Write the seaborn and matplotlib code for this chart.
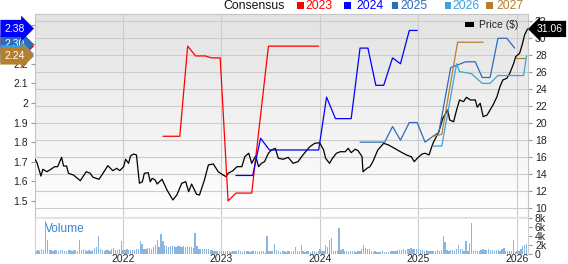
import numpy as np
import matplotlib
matplotlib.use("Agg")
import matplotlib.pyplot as plt
import matplotlib.transforms as mtrans
from matplotlib.colors import LinearSegmentedColormap
from matplotlib.patches import Rectangle
import seaborn as sns

# ---------------- data ----------------
years = [2022, 2023, 2024, 2025, 2026]
year_labels = ["2022", "2023", "2024", "2025", "2026"]

price_t = [2021.11, 2021.13, 2021.17, 2021.19, 2021.23, 2021.26, 2021.31, 2021.34, 2021.38, 2021.40,
           2021.43, 2021.45, 2021.50, 2021.57, 2021.63, 2021.67, 2021.70, 2021.76, 2021.80, 2021.85,
           2021.90, 2021.94, 2021.97, 2022.01, 2022.03, 2022.06, 2022.08, 2022.11, 2022.14, 2022.17,
           2022.20, 2022.22, 2022.26, 2022.28, 2022.30, 2022.33, 2022.35, 2022.40, 2022.45, 2022.46,
           2022.51, 2022.55, 2022.60, 2022.64, 2022.67, 2022.70, 2022.75, 2022.78, 2022.83, 2022.87,
           2022.92, 2022.97, 2023.02, 2023.05, 2023.07, 2023.12, 2023.16, 2023.21, 2023.24, 2023.28,
           2023.31, 2023.35, 2023.38, 2023.41, 2023.44, 2023.48, 2023.51, 2023.55, 2023.58, 2023.63,
           2023.68, 2023.73, 2023.78, 2023.83, 2023.90, 2023.95, 2024.00, 2024.04, 2024.06, 2024.10,
           2024.13, 2024.17, 2024.21, 2024.26, 2024.29, 2024.32, 2024.36, 2024.39, 2024.43, 2024.44,
           2024.48, 2024.51, 2024.54, 2024.59, 2024.65, 2024.70, 2024.73, 2024.76, 2024.82, 2024.88,
           2024.93, 2024.96, 2025.00, 2025.04, 2025.07, 2025.11, 2025.15, 2025.21, 2025.25, 2025.30,
           2025.32, 2025.36, 2025.39, 2025.42, 2025.46, 2025.49, 2025.53, 2025.58, 2025.60, 2025.63,
           2025.66, 2025.70, 2025.73, 2025.76, 2025.80, 2025.83, 2025.86, 2025.90, 2025.93, 2025.97,
           2025.99, 2026.03, 2026.06, 2026.08, 2026.11]
price_v = [15.73, 15.33, 13.76, 14.55, 14.27, 14.47, 14.86, 14.86, 15.96, 14.94,
           14.94, 14.08, 13.88, 13.21, 14.27, 14.08, 13.61, 13.38, 14.08, 14.98,
           14.39, 14.67, 14.39, 14.86, 15.73, 15.26, 16.12, 16.35, 16.24, 12.91,
           13.09, 14.08, 14.15, 13.09, 13.49, 13.29, 12.82, 13.38, 12.12, 11.92,
           10.94, 11.53, 12.91, 13.09, 11.92, 12.82, 11.61, 11.53, 13.29, 15.06,
           15.18, 14.27, 13.88, 13.68, 14.08, 14.39, 14.86, 14.86, 16.04, 16.44,
           15.26, 16.12, 14.86, 15.26, 15.45, 16.44, 16.82, 17.02, 15.85, 15.73,
           15.96, 15.26, 15.45, 16.24, 17.21, 17.61, 17.68, 16.82, 15.85, 15.26,
           15.85, 16.44, 16.62, 16.62, 17.02, 16.51, 16.91, 16.74, 16.04, 14.27,
           14.67, 14.86, 15.45, 16.82, 17.61, 17.41, 17.21, 17.02, 16.62, 16.24,
           16.04, 15.45, 15.96, 16.35, 16.44, 16.24, 17.61, 18.98, 20.55, 21.53,
           20.35, 20.15, 21.53, 22.71, 22.51, 23.02, 22.71, 22.71, 21.85, 22.32,
           20.74, 20.94, 21.53, 22.12, 23.09, 24.27, 25.06, 25.26, 25.85, 27.02,
           27.80, 28.20, 29.38, 30.35, 31.06]
price_last = 31.06

c23_t = [2022.41, 2022.58, 2022.66, 2022.74, 2022.84, 2022.90, 2022.99, 2023.07, 2023.15, 2023.31, 2023.48, 2023.99]
c23_v = [1.83, 1.83, 2.29, 2.24, 2.24, 2.23, 2.23, 1.50, 1.54, 1.54, 2.29, 2.29]

c24_t = [2023.15, 2023.32, 2023.40, 2023.49, 2023.99, 2024.07, 2024.16, 2024.32, 2024.41, 2024.49,
         2024.57, 2024.65, 2024.74, 2024.82, 2024.91, 2024.99]
c24_v = [1.63, 1.63, 1.82, 1.76, 1.76, 2.03, 1.92, 1.92, 2.28, 2.28,
         2.09, 2.09, 2.23, 2.20, 2.37, 2.37]

c25_t = [2024.41, 2024.66, 2024.74, 2024.82, 2024.91, 2024.99, 2025.07, 2025.15, 2025.21, 2025.33,
         2025.48, 2025.58, 2025.65, 2025.73, 2025.81, 2025.90, 2025.98]
c25_v = [1.80, 1.80, 1.88, 1.81, 1.90, 1.90, 1.80, 1.83, 1.85, 2.18,
         2.21, 2.21, 2.13, 2.13, 2.33, 2.33, 2.28]

c26_t = [2025.15, 2025.24, 2025.39, 2025.42, 2025.54, 2025.65, 2025.73, 2025.81, 2026.07, 2026.10]
c26_v = [1.78, 1.78, 2.20, 2.16, 2.15, 2.10, 2.10, 2.14, 2.14, 2.24]

c27_t = [2025.15, 2025.24, 2025.40, 2025.66, np.nan, 2025.99, 2026.08]
c27_v = [1.83, 1.84, 2.31, 2.31, np.nan, 2.23, 2.23]

series_names = ["2023", "2024", "2025", "2026", "2027"]
series_colors = ["#ff0000", "#0000ff", "#2a6ebb", "#3ba3dc", "#b5802e"]

# current consensus tags (drawn bottom -> top)
tag_names = ["2023", "2025", "2026", "2027", "2024"]
tag_values = [2.29, 2.30, 2.25, 2.24, 2.38]
tag_labels = ["2.29", "2.30", "2.25", "2.24", "2.38"]

eps_ticks = [1.5, 1.6, 1.7, 1.8, 1.9, 2.0, 2.1, 2.2, 2.3, 2.4]
price_ticks = [10, 12, 14, 16, 18, 20, 22, 24, 26, 28, 30, 32]
vol_ticks = [0, 2, 4, 6, 8]
vol_tick_labels = ["0", "2k", "4k", "6k", "8k"]

# weekly volume (thousands), starting Feb 2021
vol_start = 2021.12
vol_v = [0.6, 0.8, 0.7, 1.0, 0.9, 7.3, 3.2, 0.9, 0.8, 0.7, 0.8, 0.9, 0.7, 0.8, 0.9, 0.7, 0.6, 0.8, 0.9, 0.7,
         0.8, 0.9, 0.7, 3.0, 0.9, 1.0, 0.8, 0.7, 0.8, 0.6, 0.9, 1.3, 1.6, 4.0, 1.0, 0.8, 0.7, 0.9, 0.8, 0.7,
         1.1, 1.3, 0.9, 0.8, 1.0, 2.8, 0.9, 0.8, 1.1, 0.9, 0.8, 0.8, 0.9, 1.0, 1.2, 2.8, 2.3, 1.2, 1.0, 1.3,
         1.4, 1.2, 1.5, 2.1, 3.2, 1.5, 4.4, 2.8, 2.0, 1.7, 1.6, 1.8, 1.7, 1.8, 1.6, 1.7, 1.8, 1.6, 1.7, 1.5,
         1.7, 1.6, 1.5, 1.3, 4.7, 1.8, 1.2, 1.1, 1.0, 1.2, 1.0, 1.1, 0.9, 0.8, 0.7, 0.6, 0.7, 0.6, 0.6, 0.7,
         0.6, 0.7, 0.6, 0.5, 0.6, 0.7, 0.6, 0.8, 0.6, 0.5, 0.6, 0.7, 0.6, 0.5, 0.6, 0.7, 0.6, 0.5, 0.6, 0.7,
         0.6, 0.5, 4.0, 0.7, 0.6, 0.7, 2.3, 0.8, 0.6, 0.5, 0.6, 0.7, 0.5, 0.6, 0.6, 0.5, 0.7, 1.5, 0.6, 0.6,
         1.9, 0.6, 0.5, 0.7, 0.6, 0.5, 0.6, 0.7, 0.5, 0.6, 1.0, 0.6, 0.7, 2.1, 1.5, 3.2, 3.5, 0.6, 0.7, 0.6,
         5.7, 0.8, 1.0, 0.7, 0.6, 0.5, 0.6, 0.7, 0.6, 0.5, 0.6, 0.7, 1.0, 2.0, 1.3, 1.1, 1.1, 0.6, 0.5, 0.6,
         0.5, 0.4, 0.5, 0.6, 0.5, 0.4, 0.5, 0.6, 0.7, 0.6, 0.7, 0.8, 0.9, 0.8, 1.0, 0.9, 1.1, 1.2, 1.3, 1.1,
         1.2, 1.0, 1.1, 0.9, 0.8, 0.7, 0.8, 0.7, 0.6, 0.7, 0.6, 0.7, 0.8, 0.7, 0.9, 4.0, 2.6, 0.8, 0.7, 0.9,
         0.8, 0.7, 1.0, 2.0, 1.2, 1.2, 0.6, 2.8, 0.6, 2.5, 6.9, 0.7, 0.8, 0.6, 0.7, 0.9, 1.0, 0.8, 0.9, 1.0,
         0.9, 0.8, 0.7, 0.8, 0.9, 0.7, 1.0, 1.3, 0.6, 0.7, 0.6, 0.7, 3.2, 0.5, 0.6, 0.7, 1.0, 1.7, 2.0, 2.3]

# ---------------- style ----------------
sns.set_style("white")
plt.rcParams['font.family'] = ['Liberation Sans', 'DejaVu Sans']

W, H = 568, 264
fig = plt.figure(figsize=(W / 100, H / 100), dpi=100)
fig.patch.set_facecolor("white")


def fx(px):
    return px / W


def fy(py):
    return 1 - py / H


X0, X1 = 35, 528
XMIN, XMAX = 2021.11, 2026.115
grid_c = "#cccccc"
tick_fs = 7.5
txt_c = "#222222"

ax = fig.add_axes([fx(X0), fy(217), fx(X1) - fx(X0), fy(14) - fy(217)])
axv = fig.add_axes([fx(X0), fy(254), fx(X1) - fx(X0), fy(217) - fy(254)])
ax2 = ax.twinx()

# gradient background
grad = np.linspace(0, 1, 256).reshape(-1, 1)
cmap = LinearSegmentedColormap.from_list("g", ["#ffffff", "#e3e3e3"])
ax.imshow(grad, extent=[0, 1, 0, 1], transform=ax.transAxes, origin="lower",
          cmap=cmap, aspect="auto", zorder=0)

# price line (right axis)
sns.lineplot(x=np.array(price_t), y=np.array(price_v), ax=ax, color="black",
             linewidth=0.9, estimator=None, sort=False, zorder=3)
ax.set_xlim(XMIN, XMAX)
ax.set_ylim(8.94, 32.82)
ax.set_yticks(price_ticks)
ax.set_yticklabels([str(t) for t in price_ticks])
ax.yaxis.tick_right()
ax.set_xticks(years)
ax.tick_params(axis="x", length=0, labelbottom=False)
ax.tick_params(axis="y", direction="out", length=3, width=0.8, color="#999999",
               labelsize=tick_fs, labelcolor=txt_c, pad=2)
ax.grid(True, color=grid_c, linewidth=0.8)
ax.set_axisbelow(True)
ax.set_xlabel("")
ax.set_ylabel("")
for s in ax.spines.values():
    s.set_color("#c4c4c4")
    s.set_linewidth(0.8)

# consensus lines (left axis)
cons_t = [c23_t, c24_t, c25_t, c26_t, c27_t]
cons_v = [c23_v, c24_v, c25_v, c26_v, c27_v]
for t, v, col in zip(cons_t, cons_v, series_colors):
    t = np.array(t, dtype=float)
    v = np.array(v, dtype=float)
    breaks = np.where(np.isnan(t))[0]
    segs = np.split(np.arange(len(t)), breaks)
    for idx in segs:
        idx = idx[~np.isnan(t[idx])]
        if len(idx) < 2:
            continue
        sns.lineplot(x=t[idx], y=v[idx], ax=ax2, color=col, linewidth=0.9,
                     estimator=None, sort=False, zorder=2)

ax2.set_xlim(XMIN, XMAX)
ax2.set_ylim(1.418, 2.454)
ax2.yaxis.tick_left()
ax2.set_yticks(eps_ticks)
ax2.set_yticklabels(["%g" % t for t in eps_ticks])
ax2.tick_params(axis="y", direction="out", length=3, width=0.8, color="#999999",
                labelsize=tick_fs, labelcolor=txt_c, pad=2)
ax2.set_ylabel("")
for s in ax2.spines.values():
    s.set_visible(False)

# consensus tags on the left
btr2 = mtrans.blended_transform_factory(ax2.transAxes, ax2.transData)
col_of = dict(zip(series_names, series_colors))
for i, (nm, val, lab) in enumerate(zip(tag_names, tag_values, tag_labels)):
    ax2.text(-31 / (X1 - X0), val, lab, transform=btr2, ha="left", va="center",
             color="white", fontsize=7.5, clip_on=False, zorder=10 + i,
             bbox=dict(boxstyle="rarrow,pad=0.35", fc=col_of[nm], ec="none"))

# price tag on the right
btr = mtrans.blended_transform_factory(ax.transAxes, ax.transData)
ax.text(1 + 9 / (X1 - X0), price_last, "%.2f" % price_last, transform=btr, ha="left",
        va="center", color="white", fontsize=7.5, clip_on=False, zorder=10,
        bbox=dict(boxstyle="larrow,pad=0.3", fc="black", ec="none"))

# price legend
fig.patches.append(Rectangle((fx(465), fy(27)), 9 / W, 5 / H, transform=fig.transFigure,
                             facecolor="black", edgecolor="none", zorder=20))
fig.text(fx(479), fy(25), "Price ($)", fontsize=7.5, color=txt_c, va="center", ha="left")

# top consensus legend
ty = fy(5.8)
fig.text(fx(223), ty, "Consensus", fontsize=8.8, color="#111111", va="center", ha="left")
sq_x = [297, 344, 391.5, 444.5, 486]
lab_x = [305.5, 356, 400.5, 452.5, 496.5]
for nm, col, sx, lx in zip(series_names, series_colors, sq_x, lab_x):
    fig.patches.append(Rectangle((fx(sx), fy(9)), 6.5 / W, 6.5 / H, transform=fig.transFigure,
                                 facecolor=col, edgecolor="none"))
    fig.text(fx(lx), ty, nm, fontsize=8.8, color=col, va="center", ha="left")

# volume panel
vol_t = vol_start + np.arange(len(vol_v)) / 52.0
axv.bar(vol_t, vol_v, width=0.7 / 52, color="#8ab6e0", linewidth=0, zorder=2)
axv.axhspan(7.85, 8.22, color="#e2e2e2", zorder=1, lw=0)
axv.set_xlim(XMIN, XMAX)
axv.set_ylim(0, 8.22)
axv.yaxis.tick_right()
axv.set_yticks(vol_ticks)
axv.set_yticklabels(vol_tick_labels)
axv.set_xticks(years)
axv.set_xticklabels(year_labels)
axv.tick_params(axis="x", length=0, labelsize=tick_fs, labelcolor=txt_c, pad=0.3)
axv.tick_params(axis="y", direction="out", length=3, width=0.8, color="#999999",
                labelsize=tick_fs, labelcolor=txt_c, pad=2)
axv.grid(True, axis="x", color=grid_c, linewidth=0.8)
axv.set_axisbelow(True)
for k, s in axv.spines.items():
    s.set_color("#d0d0d0")
    s.set_linewidth(0.8)
axv.spines["bottom"].set_visible(False)
axv.spines["top"].set_visible(False)
axv.text(10 / (X1 - X0), 0.68, "Volume", transform=axv.transAxes, fontsize=8.6,
         color="#3b87c9", va="center", ha="left", zorder=5)

fig.savefig("out.png", dpi=100)
